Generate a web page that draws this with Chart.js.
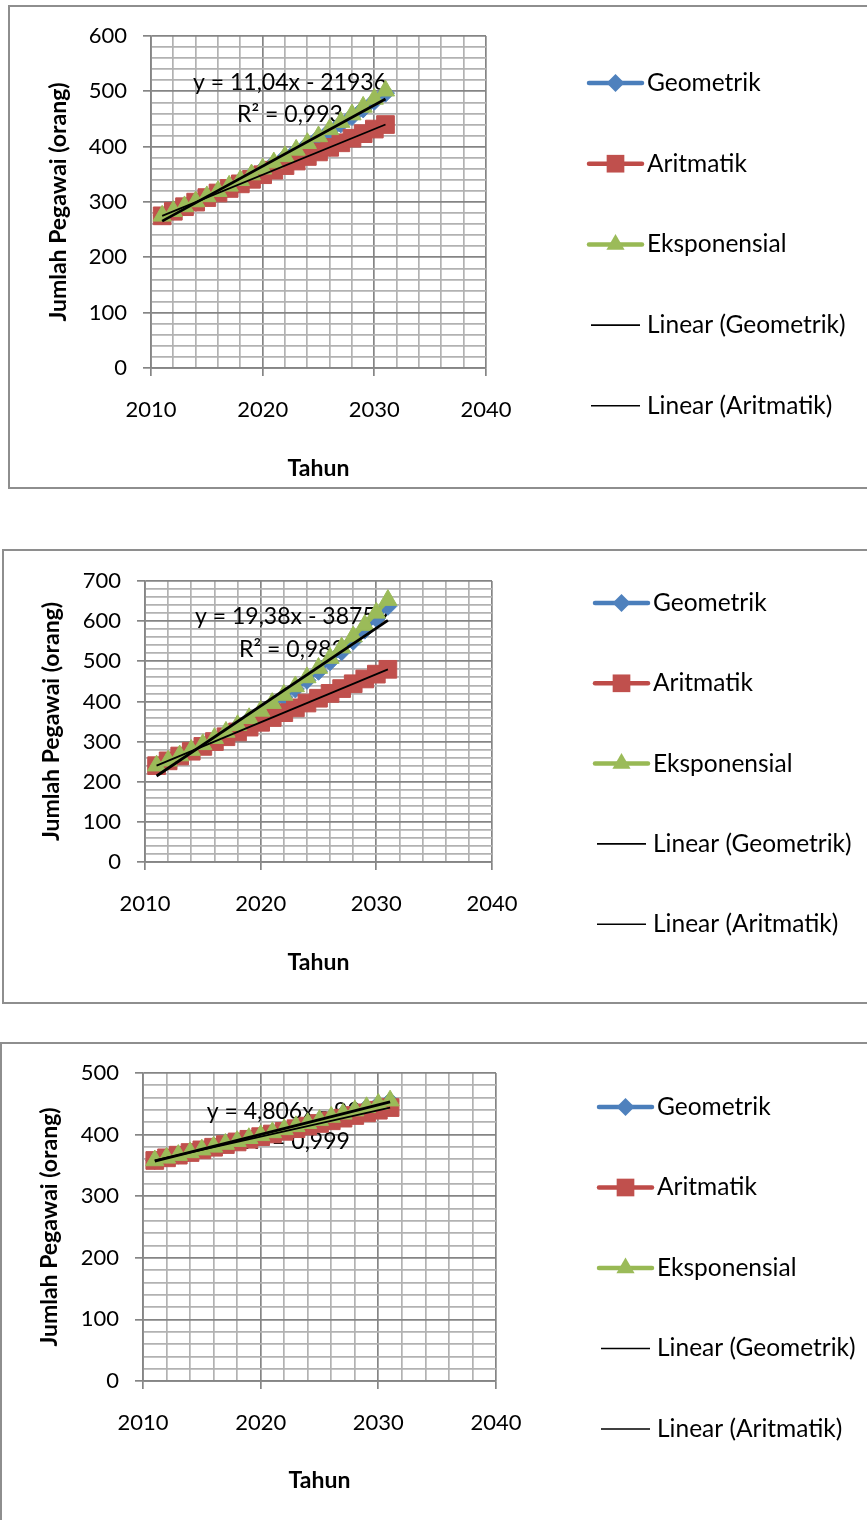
<!DOCTYPE html>
<html>
<head>
<meta charset="utf-8">
<script src="https://cdn.jsdelivr.net/npm/chart.js@4.4.1/dist/chart.umd.min.js"></script>
<style>
  html, body { margin: 0; padding: 0; background: #fff; }
  body { width: 867px; height: 1520px; position: relative; overflow: hidden; }
  .box { position: absolute; border: 2px solid #8e8e8e; box-sizing: border-box; }
  canvas { position: absolute; left: 0; }
</style>
</head>
<body>
<div class="box" style="left:8px;top:5px;width:880px;height:484px"></div>
<div class="box" style="left:2px;top:549px;width:880px;height:455px"></div>
<div class="box" style="left:0px;top:1042px;width:880px;height:490px"></div>
<canvas id="c1" width="867" height="482" style="top:6px"></canvas>
<canvas id="c2" width="867" height="453" style="top:550px"></canvas>
<canvas id="c3" width="867" height="477" style="top:1043px"></canvas>
<script>
// Projection years and axis labels
const years = [2011, 2012, 2013, 2014, 2015, 2016, 2017, 2018, 2019, 2020, 2021,
               2022, 2023, 2024, 2025, 2026, 2027, 2028, 2029, 2030, 2031];
const xTickLabels = [2010, 2020, 2030, 2040];
const seriesNames = ['Geometrik', 'Aritmatik', 'Eksponensial'];
const trendNames = ['Linear (Geometrik)', 'Linear (Aritmatik)'];
const xAxisTitle = 'Tahun';
const yAxisTitle = 'Jumlah Pegawai (orang)';

// Panel 1
const yTickLabels1 = [0, 100, 200, 300, 400, 500, 600];
const geometrik1 = [275.0, 283.3, 291.8, 300.5, 309.5, 318.8, 328.4, 338.2, 348.4, 358.8, 369.6,
                    380.7, 392.1, 403.8, 416.0, 428.4, 441.3, 454.5, 468.2, 482.2, 496.7];
const aritmatik1 = [275.0, 283.3, 291.5, 299.8, 308.0, 316.3, 324.5, 332.8, 341.0, 349.3, 357.5,
                    365.8, 374.0, 382.3, 390.5, 398.8, 407.0, 415.3, 423.5, 431.8, 440.0];
const eksponensial1 = [275.0, 283.4, 292.0, 300.9, 310.1, 319.5, 329.2, 339.3, 349.6, 360.2, 371.2,
                       382.5, 394.2, 406.2, 418.5, 431.3, 444.4, 458.0, 471.9, 486.3, 501.1];
const trendGeo1 = [11.04, -21936];
const rSquared1 = 0.993;

// Panel 2
const yTickLabels2 = [0, 100, 200, 300, 400, 500, 600, 700];
const geometrik2 = [240.0, 252.0, 264.6, 277.8, 291.7, 306.3, 321.6, 337.7, 354.6, 372.3, 390.9,
                    410.5, 431.0, 452.6, 475.2, 498.9, 523.9, 550.1, 577.6, 606.5, 636.8];
const aritmatik2 = [240, 252, 264, 276, 288, 300, 312, 324, 336, 348, 360,
                    372, 384, 396, 408, 420, 432, 444, 456, 468, 480];
const eksponensial2 = [240.0, 252.3, 265.2, 278.8, 293.1, 308.2, 324.0, 340.6, 358.0, 376.4, 395.7,
                       416.0, 437.3, 459.7, 483.3, 508.1, 534.1, 561.5, 590.3, 620.6, 652.4];
const trendGeo2 = [19.38, -38759];
const rSquared2 = 0.983;

// Panel 3
const yTickLabels3 = [0, 100, 200, 300, 400, 500];
const geometrik3 = [358.0, 362.3, 366.6, 371.0, 375.5, 380.0, 384.6, 389.2, 393.8, 398.6, 403.4,
                    408.2, 413.1, 418.1, 423.1, 428.1, 433.3, 438.5, 443.7, 449.1, 454.5];
const aritmatik3 = [358.0, 362.3, 366.6, 370.9, 375.2, 379.5, 383.8, 388.1, 392.4, 396.7, 401.0,
                    405.3, 409.6, 413.8, 418.1, 422.4, 426.7, 431.0, 435.3, 439.6, 443.9];
const eksponensial3 = [358.0, 362.3, 366.7, 371.1, 375.6, 380.1, 384.7, 389.4, 394.1, 398.8, 403.6,
                       408.5, 413.4, 418.4, 423.5, 428.6, 433.8, 439.0, 444.3, 449.7, 455.1];
const trendGeo3 = [4.806, -9308];
const rSquared3 = 0.999;

// ---- styling ----
const FONT = 'Lato, "Open Sans", sans-serif';
const MAJOR_GRID = '#858585';
const MINOR_GRID = '#b2b2b2';
const COLORS = {
  geo: { line: '#4A7EBB', fill: '#4F81BD' },
  ari: { line: '#BE4B48', fill: '#C0504D' },
  eks: { line: '#98B954', fill: '#9BBB59' }
};

function toXY(xs, ys) { return xs.map((x, i) => ({ x: x, y: ys[i] })); }

function leastSquares(xs, ys) {
  const n = xs.length;
  const mx = xs.reduce((a, b) => a + b, 0) / n;
  const my = ys.reduce((a, b) => a + b, 0) / n;
  let sxy = 0, sxx = 0;
  for (let i = 0; i < n; i++) { sxy += (xs[i] - mx) * (ys[i] - my); sxx += (xs[i] - mx) ** 2; }
  const slope = sxy / sxx;
  return [slope, my - slope * mx];
}

function lineSegment(coef) {
  const x0 = years[0], x1 = years[years.length - 1];
  return [{ x: x0, y: coef[0] * x0 + coef[1] }, { x: x1, y: coef[0] * x1 + coef[1] }];
}

function decimalComma(v) { return String(v).replace('.', ','); }

function markerPath(ctx, style, x, y, r) {
  ctx.beginPath();
  if (style === 'rectRot') {
    ctx.moveTo(x - r, y); ctx.lineTo(x, y - r); ctx.lineTo(x + r, y); ctx.lineTo(x, y + r);
  } else if (style === 'rect') {
    const h = r * Math.SQRT1_2;
    ctx.rect(x - h, y - h, 2 * h, 2 * h);
  } else {
    const w = r * Math.sin(Math.PI / 3);
    ctx.moveTo(x, y - r); ctx.lineTo(x + w, y + r / 2); ctx.lineTo(x - w, y + r / 2);
  }
  ctx.closePath();
}

function buildPanel(canvasId, d, s) {
  const canvas = document.getElementById(canvasId);
  const W = canvas.width, H = canvas.height;
  const yMin = d.yTicks[0], yMax = d.yTicks[d.yTicks.length - 1];
  const xMin = xTickLabels[0], xMax = xTickLabels[xTickLabels.length - 1];
  const yMajor = d.yTicks[1] - d.yTicks[0], yMinor = yMajor / 5;
  const xMajor = xTickLabels[1] - xTickLabels[0], xMinor = xMajor / 5;
  const ariCoef = leastSquares(years, d.ari);

  const series = [
    { key: 'geo', name: seriesNames[0], style: 'rectRot', r: 9, values: d.geo },
    { key: 'ari', name: seriesNames[1], style: 'rect', r: 12.5, values: d.ari },
    { key: 'eks', name: seriesNames[2], style: 'triangle', r: 10.5, values: d.eks }
  ];

  const datasets = series.map((sr, i) => ({
    label: sr.name,
    data: toXY(years, sr.values),
    showLine: true,
    borderColor: COLORS[sr.key].line,
    borderWidth: 4,
    pointStyle: sr.style,
    pointRadius: sr.r,
    pointBackgroundColor: COLORS[sr.key].fill,
    pointBorderColor: COLORS[sr.key].fill,
    pointBorderWidth: 1,
    order: 3 - i
  }));
  datasets.push({
    label: trendNames[0], data: lineSegment(d.trend), showLine: true,
    borderColor: '#000', borderWidth: 2.8, pointRadius: 0, order: 0
  });
  datasets.push({
    label: trendNames[1], data: lineSegment(ariCoef), showLine: true,
    borderColor: '#000', borderWidth: 1.8, pointRadius: 0, order: 0
  });

  const isMajor = (v, step) => Math.abs(v / step - Math.round(v / step)) < 1e-6;

  const legendPlugin = {
    id: 'sideLegend',
    afterDraw(chart) {
      const ctx = chart.ctx;
      ctx.save();
      ctx.font = s.legendFont + 'px ' + FONT;
      ctx.textBaseline = 'middle';
      ctx.textAlign = 'left';
      const items = series.map(sr => ({ name: sr.name, sr: sr }))
        .concat(trendNames.map(n => ({ name: n })));
      items.forEach((it, i) => {
        const y = s.legendTop + i * s.legendGap;
        if (it.sr) {
          ctx.strokeStyle = COLORS[it.sr.key].line;
          ctx.lineWidth = 4.5;
          ctx.lineCap = 'round';
          ctx.beginPath(); ctx.moveTo(s.legendX0, y); ctx.lineTo(s.legendX1, y); ctx.stroke();
          ctx.fillStyle = COLORS[it.sr.key].fill;
          markerPath(ctx, it.sr.style, (s.legendX0 + s.legendX1) / 2, y, it.sr.r);
          ctx.fill();
        } else {
          ctx.strokeStyle = '#000';
          ctx.lineWidth = 1.6;
          ctx.lineCap = 'butt';
          ctx.beginPath(); ctx.moveTo(s.legendX0 + 2, y); ctx.lineTo(s.legendX1 - 2, y); ctx.stroke();
        }
        ctx.fillStyle = '#000';
        ctx.fillText(it.name, s.legendTextX, y);
      });
      ctx.restore();
    }
  };

  const trendLabelPlugin = {
    id: 'trendLabel',
    beforeDatasetsDraw(chart) {
      const ctx = chart.ctx;
      ctx.save();
      ctx.font = s.labelFont + 'px ' + FONT;
      ctx.fillStyle = '#000';
      ctx.textAlign = 'center';
      ctx.textBaseline = 'middle';
      const eq = 'y = ' + decimalComma(d.trend[0]) + 'x ' + (d.trend[1] < 0 ? '- ' : '+ ') + Math.abs(d.trend[1]);
      ctx.fillText(eq, s.labelX, s.labelY1);
      ctx.fillText('R\u00B2 = ' + decimalComma(d.r2), s.labelX, s.labelY2);
      ctx.restore();
    }
  };

  return new Chart(canvas, {
    type: 'scatter',
    data: { datasets: datasets },
    plugins: [trendLabelPlugin, legendPlugin],
    options: {
      responsive: false,
      animation: false,
      devicePixelRatio: 1,
      layout: { padding: { left: 0, top: s.area.top, right: W - s.area.right, bottom: 0 } },
      plugins: { legend: { display: false }, tooltip: { enabled: false } },
      scales: {
        x: {
          type: 'linear', min: xMin, max: xMax,
          afterBuildTicks(scale) {
            const t = [];
            for (let v = xMin; v <= xMax + 1e-9; v += xMinor) t.push({ value: v });
            scale.ticks = t;
          },
          afterFit(scale) { scale.height = H - s.area.bottom; },
          ticks: {
            autoSkip: false, maxRotation: 0, minRotation: 0, padding: s.xTickPad,
            color: '#000', font: { family: FONT, size: s.tickFont },
            callback: v => (xTickLabels.indexOf(v) >= 0 ? String(v) : '')
          },
          grid: {
            color: c => (isMajor(c.tick.value, xMajor) ? MAJOR_GRID : MINOR_GRID),
            tickColor: c => (isMajor(c.tick.value, xMajor) ? MAJOR_GRID : 'rgba(0,0,0,0)'),
            lineWidth: 1.7, tickLength: 8, tickWidth: 1.7
          },
          border: { color: MAJOR_GRID, width: 1.7 },
          title: {
            display: true, text: xAxisTitle, color: '#000',
            font: { family: FONT, size: s.titleFont, weight: 'bold' },
            padding: { top: 0, bottom: s.xTitlePad }
          }
        },
        y: {
          type: 'linear', min: yMin, max: yMax,
          afterBuildTicks(scale) {
            const t = [];
            for (let v = yMin; v <= yMax + 1e-9; v += yMinor) t.push({ value: Math.round(v) });
            scale.ticks = t;
          },
          afterFit(scale) { scale.width = s.area.left; },
          ticks: {
            autoSkip: false, padding: s.yTickPad,
            color: '#000', font: { family: FONT, size: s.tickFont },
            callback: v => (d.yTicks.indexOf(v) >= 0 ? String(v) : '')
          },
          grid: {
            color: c => (isMajor(c.tick.value, yMajor) ? MAJOR_GRID : MINOR_GRID),
            tickColor: c => (isMajor(c.tick.value, yMajor) ? MAJOR_GRID : 'rgba(0,0,0,0)'),
            lineWidth: 1.7, tickLength: 8, tickWidth: 1.7
          },
          border: { color: MAJOR_GRID, width: 1.7 },
          title: {
            display: true, text: yAxisTitle, color: '#000',
            font: { family: FONT, size: s.titleFont, weight: 'bold' },
            padding: { top: s.yTitlePad, bottom: 0 }
          }
        }
      }
    }
  });
}

const baseStyle = { tickFont: 22, titleFont: 23, legendFont: 24.5, labelFont: 23, xTickPad: 21, yTickPad: 16 };

buildPanel('c1',
  { yTicks: yTickLabels1, geo: geometrik1, ari: aritmatik1, eks: eksponensial1, trend: trendGeo1, r2: rSquared1 },
  Object.assign({}, baseStyle, {
    area: { left: 151, right: 486, top: 30, bottom: 362 },
    xTitlePad: 6, yTitlePad: 45,
    legendTop: 77, legendGap: 80.7, legendX0: 589, legendX1: 642, legendTextX: 647,
    labelX: 290, labelY1: 77, labelY2: 109
  }));

buildPanel('c2',
  { yTicks: yTickLabels2, geo: geometrik2, ari: aritmatik2, eks: eksponensial2, trend: trendGeo2, r2: rSquared2 },
  Object.assign({}, baseStyle, {
    area: { left: 145, right: 492, top: 31, bottom: 312 },
    xTitlePad: 27, yTitlePad: 38,
    legendTop: 53, legendGap: 80.3, legendX0: 595, legendX1: 648, legendTextX: 653,
    labelX: 292, labelY1: 67, labelY2: 100
  }));

buildPanel('c3',
  { yTicks: yTickLabels3, geo: geometrik3, ari: aritmatik3, eks: eksponensial3, trend: trendGeo3, r2: rSquared3 },
  Object.assign({}, baseStyle, {
    area: { left: 143, right: 496, top: 30, bottom: 338 },
    xTitlePad: 26, yTitlePad: 36,
    legendTop: 64, legendGap: 80.5, legendX0: 599, legendX1: 652, legendTextX: 657,
    labelX: 297, labelY1: 69, labelY2: 99
  }));
</script>
</body>
</html>
